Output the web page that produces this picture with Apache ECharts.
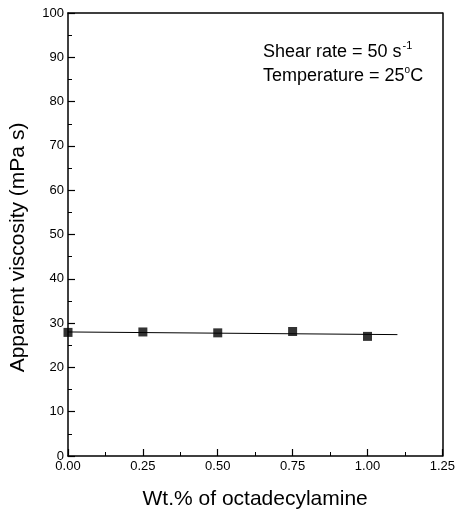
<!DOCTYPE html>
<html>
<head>
<meta charset="utf-8">
<script src="https://cdn.jsdelivr.net/npm/echarts@6/dist/echarts.min.js"></script>
<style>html,body{margin:0;padding:0;background:#fff}#c{width:458px;height:516px}</style>
</head>
<body>
<div id="c"></div>
<script>
var wtPercent = [0, 0.25, 0.5, 0.75, 1.0];
var viscosity = [27.9, 28.0, 27.8, 28.1, 27.0];
var fitX = [0, 1.1];
var fitY = [28.0, 27.4];
var xTicks = [0, 0.25, 0.5, 0.75, 1.0, 1.25];
var yTicks = [0, 10, 20, 30, 40, 50, 60, 70, 80, 90, 100];

var font = 'Liberation Sans, Arial, sans-serif';
var chart = echarts.init(document.getElementById('c'));
var axisCommon = {
  axisLine: {show: true, onZero: false, lineStyle: {color: '#000', width: 1.5}},
  axisTick: {show: true, inside: true, length: 7, lineStyle: {color: '#000', width: 1.2}},
  minorTick: {show: true, splitNumber: 2, length: 4, lineStyle: {color: '#000', width: 1}},
  splitLine: {show: false}
};
chart.setOption({
  animation: false,
  backgroundColor: '#fff',
  grid: {left: 66, right: 15, top: 13, bottom: 60},
  xAxis: [
    Object.assign({
      type: 'value', min: xTicks[0], max: xTicks[xTicks.length - 1], interval: 0.25,
      name: 'Wt.% of octadecylamine', nameLocation: 'middle', nameGap: 33,
      nameTextStyle: {fontFamily: font, fontSize: 21, color: '#000'},
      axisLabel: {fontFamily: font, fontSize: 13, color: '#000', margin: 4,
        formatter: function (v) { return v.toFixed(2); }}
    }, axisCommon),
    Object.assign({
      type: 'value', position: 'top', min: 0, max: 1.25, interval: 0.25,
      axisLabel: {show: false}
    }, axisCommon, {axisTick: {show: false}, minorTick: {show: false}})
  ],
  yAxis: [
    Object.assign({
      type: 'value', min: yTicks[0], max: yTicks[yTicks.length - 1], interval: 10,
      name: 'Apparent viscosity (mPa s)', nameLocation: 'middle', nameGap: 39,
      nameTextStyle: {fontFamily: font, fontSize: 21, color: '#000', padding: [0, 26, 0, 0]},
      axisLabel: {fontFamily: font, fontSize: 13, color: '#000', margin: 4}
    }, axisCommon),
    Object.assign({
      type: 'value', position: 'right', min: 0, max: 100, interval: 10,
      axisLabel: {show: false}
    }, axisCommon, {axisTick: {show: false}, minorTick: {show: false}})
  ],
  series: [
    {
      type: 'line', data: fitX.map(function (x, i) { return [x, fitY[i]]; }),
      symbol: 'none', lineStyle: {color: '#000', width: 1}, silent: true, z: 2
    },
    {
      type: 'scatter', data: wtPercent.map(function (x, i) { return [x, viscosity[i]]; }),
      symbol: 'rect', symbolSize: 9, itemStyle: {color: '#000'}, z: 3, clip: false
    }
  ],
  graphic: [
    {
      type: 'text', left: 263, top: 40,
      style: {
        text: '{a|Shear rate = 50 s}{s|-1}',
        rich: {
          a: {fontFamily: font, fontSize: 18, fill: '#000', verticalAlign: 'bottom'},
          s: {fontFamily: font, fontSize: 11, fill: '#000', verticalAlign: 'top', padding: [0, 0, 10, 1]}
        }
      }
    },
    {
      type: 'text', left: 263, top: 65,
      style: {
        text: '{a|Temperature = 25}{s|o}{a|C}',
        rich: {
          a: {fontFamily: font, fontSize: 18, fill: '#000', verticalAlign: 'bottom'},
          s: {fontFamily: font, fontSize: 10, fill: '#000', verticalAlign: 'top', padding: [0, 0, 10, 0]}
        }
      }
    }
  ]
});
</script>
</body>
</html>
